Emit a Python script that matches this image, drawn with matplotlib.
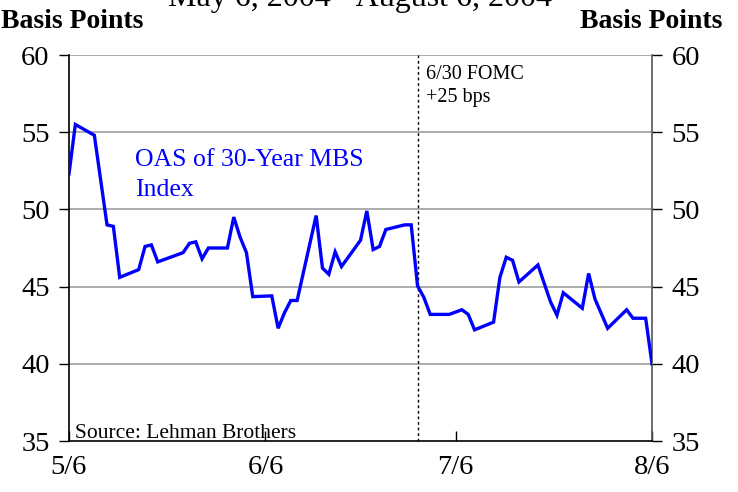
import matplotlib
matplotlib.use("Agg")
import matplotlib.pyplot as plt
import numpy as np
import pandas as pd

dates = ['2004-05-06', '2004-05-07', '2004-05-10', '2004-05-12', '2004-05-13', '2004-05-14',
         '2004-05-17', '2004-05-18', '2004-05-19', '2004-05-20', '2004-05-24', '2004-05-25',
         '2004-05-26', '2004-05-27', '2004-05-28', '2004-05-31', '2004-06-01', '2004-06-02',
         '2004-06-03', '2004-06-04', '2004-06-07', '2004-06-08', '2004-06-09', '2004-06-10',
         '2004-06-11', '2004-06-14', '2004-06-15', '2004-06-16', '2004-06-17', '2004-06-18',
         '2004-06-21', '2004-06-22', '2004-06-23', '2004-06-24', '2004-06-25', '2004-06-28',
         '2004-06-29', '2004-06-30', '2004-07-01', '2004-07-02', '2004-07-05', '2004-07-07',
         '2004-07-08', '2004-07-09', '2004-07-12', '2004-07-13', '2004-07-14', '2004-07-15',
         '2004-07-16', '2004-07-19', '2004-07-21', '2004-07-22', '2004-07-23', '2004-07-26',
         '2004-07-27', '2004-07-28', '2004-07-30', '2004-08-02', '2004-08-03', '2004-08-05',
         '2004-08-06']
oas = [52.3, 55.5, 54.8, 49.0, 48.9, 45.6,
       46.1, 47.6, 47.7, 46.6, 47.2, 47.8,
       47.9, 46.8, 47.5, 47.5, 49.5, 48.2,
       47.2, 44.35, 44.4, 42.3, 43.3, 44.1,
       44.1, 49.6, 46.2, 45.8, 47.25, 46.3,
       48.0, 49.9, 47.4, 47.6, 48.7, 49.0,
       49.0, 45.05, 44.3, 43.2, 43.2, 43.5,
       43.2, 42.2, 42.7, 45.6, 46.9, 46.7,
       45.3, 46.4, 44.0, 43.15, 44.6, 43.6,
       45.85, 44.2, 42.3, 43.5, 42.95, 42.95,
       40.0]
xtick_dates = ['2004-05-06', '2004-06-06', '2004-07-06', '2004-08-06']
xtick_labels = ['5/6', '6/6', '7/6', '8/6']
yticks = [35, 40, 45, 50, 55, 60]
fomc_date = '2004-06-30'

W, H = 738, 492
fig = plt.figure(figsize=(W / 100, H / 100), dpi=100)
serif = 'Liberation Serif'

def fx(x):
    return x / W

def fy(y):
    return 1 - y / H

left, right, top, bottom = 69, 652, 55, 441
ax = fig.add_axes([fx(left), fy(bottom), fx(right) - fx(left), fy(top) - fy(bottom)])

x = pd.to_datetime(dates)
ax.plot(x, oas, color='#0000FF', lw=2.4, solid_joinstyle='miter', zorder=3)

ax.set_xlim(pd.Timestamp('2004-05-06'), pd.Timestamp('2004-08-06'))
ax.set_ylim(35, 60)

for v in yticks[1:]:
    ax.axhline(v, color='#a6a6a6', lw=1.3, zorder=1)

ax.axvline(pd.Timestamp(fomc_date), color='black', lw=1.0, ls=(0, (2, 2)), zorder=2)

ax.set_yticks(yticks)
ax.set_yticklabels([str(v) for v in yticks], fontfamily=serif, fontsize=20.5)
ax.tick_params(axis='y', direction='out', length=7, width=1, pad=7,
               left=True, right=True, labelleft=True, labelright=True)
ax.set_xticks(pd.to_datetime(xtick_dates))
ax.set_xticklabels(xtick_labels, fontfamily=serif, fontsize=20.5)
ax.tick_params(axis='x', direction='in', length=7, width=1, pad=10, colors='black')

ax.spines['top'].set_visible(False)
ax.spines['left'].set_color('black')
ax.spines['bottom'].set_color('black')
ax.spines['right'].set_color('#555555')
for s in ['left', 'bottom', 'right']:
    ax.spines[s].set_linewidth(1.2)

fig.text(fx(360), fy(6), 'May 6, 2004 - August 6, 2004', ha='center', va='baseline',
         fontfamily=serif, fontsize=23)
fig.text(fx(1), fy(28), 'Basis Points', ha='left', va='baseline',
         fontfamily=serif, fontsize=20, fontweight='bold')
fig.text(fx(722), fy(28), 'Basis Points', ha='right', va='baseline',
         fontfamily=serif, fontsize=20, fontweight='bold')

fig.text(fx(135), fy(149), 'OAS of 30-Year MBS\nIndex', ha='left', va='top',
         fontfamily=serif, fontsize=18.5, color='#0000FF', linespacing=1.5)
fig.text(fx(426), fy(65), '6/30 FOMC\n+25 bps', ha='left', va='top',
         fontfamily=serif, fontsize=14.5, color='black', linespacing=1.3)
fig.text(fx(75), fy(438), 'Source: Lehman Brothers', ha='left', va='baseline',
         fontfamily=serif, fontsize=15.5, color='black')

fig.savefig('out.png', dpi=100)
